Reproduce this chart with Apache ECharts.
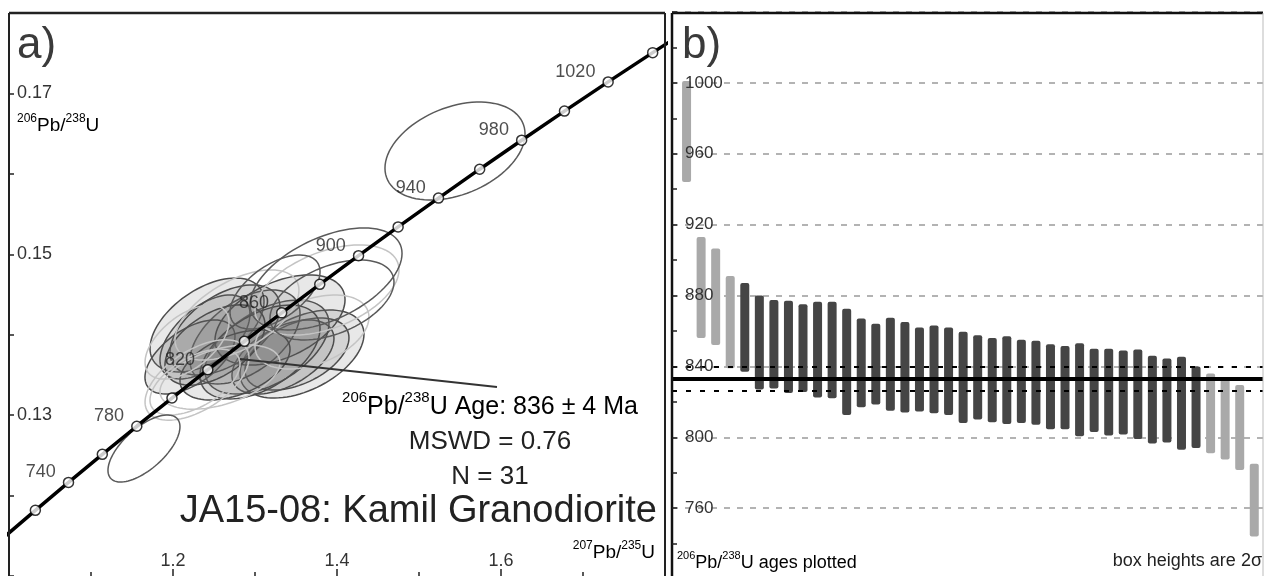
<!DOCTYPE html>
<html><head><meta charset="utf-8">
<script src="https://cdn.jsdelivr.net/npm/echarts@6/dist/echarts.min.js"></script>
<style>html,body{margin:0;padding:0;background:#fff}#c{width:1266px;height:576px}</style>
</head><body><div id="c"></div>
<script>
// ---------- Panel a) : concordia ----------
const concAges = [700,720,740,760,780,800,820,840,860,880,900,920,940,960,980,1000,1020,1040,1060];
const concX = [0.99251,1.032146,1.072570,1.113798,1.155846,1.198732,1.242466,1.287074,1.332566,1.378964,1.426286,1.474548,1.523774,1.573976,1.625178,1.677396,1.73066,1.78498,1.84038];
const concY = [0.114703,0.118167,0.121640,0.125126,0.128621,0.132129,0.135647,0.139176,0.142716,0.146267,0.149829,0.153401,0.156985,0.160580,0.164186,0.167804,0.171433,0.175073,0.178725];
const markerAgeMin = 720, markerAgeMax = 1040;
const labelledAges = [740,780,820,860,900,940,980,1020];
const xTickLabels = ['1.2','1.4','1.6'];
const yTickLabels = ['0.13','0.15','0.17'];

// ellipses: [207Pb/235U, 206Pb/238U, sigmaX, sigmaY, rho]
const ellFilled = [
  [1.3573,0.13760,0.0756,0.00547,0.45],
  [1.3512,0.13760,0.0634,0.00448,0.45],
  [1.3341,0.13723,0.0622,0.00460,0.5],
  [1.3146,0.13847,0.0756,0.00584,0.5],
  [1.2878,0.13972,0.0671,0.00584,0.5],
  [1.2415,0.14121,0.0695,0.00584,0.5],
  [1.2390,0.13972,0.0549,0.00522,0.55],
  [1.2634,0.14059,0.0671,0.00560,0.5],
  [1.2207,0.13723,0.0549,0.00460,0.55],
  [1.3305,0.14183,0.0793,0.00560,0.45],
  [1.3061,0.13785,0.0732,0.00584,0.5],
  [1.2756,0.13623,0.0671,0.00435,0.45],
  [1.2512,0.13872,0.0610,0.00500,0.5]
];
const ellOpenDark = [
  [1.3866,0.14693,0.0927,0.00634,0.5],
  [1.3244,0.14531,0.0549,0.00460,0.55],
  [1.5439,0.16284,0.0854,0.00609,0.35],
  [1.1646,0.12585,0.0439,0.00417,0.65],
  [1.3939,0.14432,0.0756,0.00497,0.45]
];
const ellOpenLight = [
  [1.3878,0.14556,0.0878,0.00560,0.45],
  [1.2293,0.13437,0.0634,0.00500,0.55],
  [1.2268,0.13412,0.0549,0.00410,0.55],
  [1.2573,0.13474,0.0732,0.00400,0.45],
  [1.2171,0.13909,0.0512,0.00460,0.55],
  [1.2780,0.14245,0.0756,0.00560,0.55],
  [1.3695,0.14034,0.0695,0.00460,0.4]
];
const arrowTail = [1.5951,0.13350];
const arrowTip = [1.2817,0.13698];

// ---------- Panel b) : ages ----------
const ageLow  = [944,856,852,839,837,827,827.5,825,825.5,822.5,822,812.5,817,818.5,815,814,814.5,813.5,812.5,808,810,808.5,807.5,808,807,804.5,804.5,800.5,803,801,801.5,799,796.5,797,793,794,791,787.5,781.5,744];
const ageHigh = [1001,913,906.5,891,887,880,877.5,877,875,876.5,876.5,872.5,867,864,867.5,865,862,863,862,859.5,857.5,856,857,855,854.5,852.5,851.5,853,850,850,849,849.5,846,844.5,845.5,840,836,834,829.5,785];
const rejected = [1,2,3,4,37,38,39,40];
const meanAge = 833, meanLow = 826, meanHigh = 840;
const ageTickLabels = ['760','800','840','880','920','960','1000'];

const FONT = '"Liberation Sans", Arial, Helvetica, sans-serif';

const concLine = concX.map((x,i)=>[x, concY[i]]);
const concMarks = concAges.map((a,i)=>[concX[i], concY[i], a]).filter(d=>d[2]>=markerAgeMin && d[2]<=markerAgeMax);

const barsAcc = [], barsRej = [];
ageLow.forEach((lo,i)=>{ const d=[i+1, lo, ageHigh[i]]; (rejected.indexOf(i+1)>=0 ? barsRej : barsAcc).push(d); });

function ellipseRender(style){
  return function(params, api){
    const cx=api.value(0), cy=api.value(1), sx=api.value(2), sy=api.value(3), r=api.value(4);
    const k=Math.sqrt(1-r*r); const pts=[];
    for(let i=0;i<90;i++){ const t=i/90*2*Math.PI;
      pts.push(api.coord([cx+sx*Math.cos(t), cy+sy*(r*Math.cos(t)+k*Math.sin(t))])); }
    return {type:'polygon', shape:{points:pts}, style:Object.assign({}, style)};
  };
}
function barRender(color){
  return function(params, api){
    const p1=api.coord([api.value(0), api.value(2)]);
    const p2=api.coord([api.value(0), api.value(1)]);
    const w=9;
    return {type:'rect', shape:{x:p1[0]-w/2, y:p1[1], width:w, height:p2[1]-p1[1], r:2}, style:{fill:color}};
  };
}

const chart = echarts.init(document.getElementById('c'), null, {renderer:'canvas'});
const supRich = (m, s) => ({
  m:{fontSize:m, fontFamily:FONT, color:'#222', verticalAlign:'bottom', lineHeight:m+4},
  s:{fontSize:s, fontFamily:FONT, color:'#222', verticalAlign:'top', lineHeight:m+2}
});
const ageAxisBase = {gridIndex:1, type:'value', min:720, max:1040, interval:40, position:'left', offset:0};

const option = {
  animation:false,
  backgroundColor:'#fff',
  grid:[
    {left:9, top:13, width:656, height:563, outerBoundsMode:'none', containLabel:false},
    {left:672, top:12, width:591, height:567, outerBoundsMode:'none', containLabel:false}
  ],
  xAxis:[
    {gridIndex:0, type:'value', min:1.0, max:1.8, interval:0.2,
     axisLine:{show:false},
     axisTick:{show:true, inside:true, length:7, lineStyle:{color:'#222', width:1.5}},
     minorTick:{show:true, splitNumber:2, length:4, lineStyle:{color:'#222', width:1.5}},
     splitLine:{show:false}, minorSplitLine:{show:false},
     axisLabel:{inside:true, margin:6, fontSize:18, fontFamily:FONT, color:'#333',
       formatter:v=>{const s=v.toFixed(1); return xTickLabels.indexOf(s)>=0?s:'';}}},
    {gridIndex:1, type:'value', min:0, max:40.6, show:false}
  ],
  yAxis:[
    {gridIndex:0, type:'value', min:0.11, max:0.18, interval:0.01,
     axisLine:{show:false},
     axisTick:{show:true, inside:true, length:5, lineStyle:{color:'#222', width:1.5}},
     splitLine:{show:false},
     axisLabel:{inside:true, margin:8, fontSize:18, fontFamily:FONT, color:'#333',
       formatter:v=>{const s=v.toFixed(2); return yTickLabels.indexOf(s)>=0?s:'';}}},
    Object.assign({}, ageAxisBase, {
     z:0,
     axisLine:{show:false}, axisTick:{show:false}, axisLabel:{show:false},
     splitLine:{show:true, lineStyle:{color:'#9a9a9a', width:1.5, type:[6,7]}},
     minorSplitLine:{show:false}}),
    Object.assign({}, ageAxisBase, {
     z:10,
     axisLine:{show:false},
     axisTick:{show:true, inside:true, length:5, lineStyle:{color:'#222', width:1.5}},
     minorTick:{show:true, splitNumber:2, length:5, lineStyle:{color:'#222', width:1.5}},
     splitLine:{show:false}, minorSplitLine:{show:false},
     axisLabel:{inside:true, margin:13, fontSize:17, fontFamily:FONT, color:'#333',
       formatter:v=>{const s=String(Math.round(v)); return ageTickLabels.indexOf(s)>=0?s:'';}}})
  ],
  series:[
    {type:'custom', name:'filled', xAxisIndex:0, yAxisIndex:0, clip:true, z:2,
     renderItem:ellipseRender({fill:'rgba(115,115,115,0.16)', stroke:'#4d4d4d', lineWidth:1.5}),
     data:ellFilled},
    {type:'custom', name:'light', xAxisIndex:0, yAxisIndex:0, clip:true, z:2,
     renderItem:ellipseRender({fill:'none', stroke:'#c4c4c4', lineWidth:1.5}),
     data:ellOpenLight},
    {type:'custom', name:'dark', xAxisIndex:0, yAxisIndex:0, clip:true, z:2,
     renderItem:ellipseRender({fill:'none', stroke:'#5a5a5a', lineWidth:1.5}),
     data:ellOpenDark,
     markLine:{silent:true, symbol:['none','arrow'], symbolSize:[0,15], label:{show:false},
       lineStyle:{color:'#333', width:1.8, type:'solid'},
       data:[[{coord:arrowTail},{coord:arrowTip}]]}},
    {type:'line', name:'concordia', xAxisIndex:0, yAxisIndex:0, data:concLine, showSymbol:false, z:3,
     lineStyle:{color:'#000', width:3.5}, clip:true},
    {type:'scatter', name:'marks', xAxisIndex:0, yAxisIndex:0, data:concMarks, z:4,
     symbol:'circle', symbolSize:10,
     itemStyle:{color:'#fff', borderColor:'#000', borderWidth:1.5},
     label:{show:true, position:'left', distance:7, offset:[0,-10], fontSize:18, fontFamily:FONT, color:'#222',
       formatter:p=>labelledAges.indexOf(p.value[2])>=0?String(p.value[2]):''}},
    {type:'custom', name:'accepted', xAxisIndex:1, yAxisIndex:1, clip:true, z:2,
     renderItem:barRender('#454545'), data:barsAcc,
     markLine:{silent:true, symbol:'none', label:{show:false}, z:5,
       data:[
        {yAxis:meanAge, lineStyle:{color:'#000', width:4, type:'solid'}},
        {yAxis:meanHigh, lineStyle:{color:'#000', width:2, type:[5,9]}},
        {yAxis:meanLow, lineStyle:{color:'#000', width:2, type:[5,9]}}
       ]}},
    {type:'custom', name:'rejected', xAxisIndex:1, yAxisIndex:1, clip:true, z:1,
     renderItem:barRender('#a9a9a9'), data:barsRej}
  ],
  graphic:[
    // panel borders
    {type:'line', shape:{x1:9,y1:13,x2:665,y2:13}, style:{stroke:'#222', lineWidth:2.5}, z:10},
    {type:'line', shape:{x1:9,y1:13,x2:9,y2:576}, style:{stroke:'#222', lineWidth:2}, z:10},
    {type:'line', shape:{x1:665,y1:13,x2:665,y2:576}, style:{stroke:'#222', lineWidth:2}, z:10},
    {type:'line', shape:{x1:672,y1:13,x2:1263,y2:13}, style:{stroke:'#111', lineWidth:2.5}, z:10},
    {type:'line', shape:{x1:672,y1:13,x2:672,y2:576}, style:{stroke:'#111', lineWidth:2.5}, z:10},
    {type:'line', shape:{x1:1263,y1:13,x2:1263,y2:576}, style:{stroke:'#bbb', lineWidth:1}, z:10},
    // texts panel a
    {type:'text', x:17, y:46, z:11, style:{text:'a)', fontSize:44, fontFamily:FONT, fill:'#3a3a3a', align:'left', verticalAlign:'middle'}},
    {type:'text', x:17, y:124, z:11, style:{text:'{s|206}{m|Pb/}{s|238}{m|U}', rich:supRich(19,12), align:'left', verticalAlign:'middle'}},
    {type:'text', x:490, y:405, z:11, style:{text:'{s|206}{m|Pb/}{s|238}{m|U Age: 836 ± 4 Ma}', rich:supRich(25,15), align:'center', verticalAlign:'middle'}},
    {type:'text', x:490, y:442, z:11, style:{text:'MSWD = 0.76', fontSize:26, fontFamily:FONT, fill:'#222', align:'center', verticalAlign:'middle'}},
    {type:'text', x:490, y:477, z:11, style:{text:'N = 31', fontSize:26, fontFamily:FONT, fill:'#222', align:'center', verticalAlign:'middle'}},
    {type:'text', x:657, y:512, z:11, style:{text:'JA15-08: Kamil Granodiorite', fontSize:38, fontFamily:FONT, fill:'#222', align:'right', verticalAlign:'middle'}},
    {type:'text', x:655, y:551, z:11, style:{text:'{s|207}{m|Pb/}{s|235}{m|U}', rich:supRich(19,12), align:'right', verticalAlign:'middle'}},
    // texts panel b
    {type:'text', x:682, y:46, z:11, style:{text:'b)', fontSize:44, fontFamily:FONT, fill:'#3a3a3a', align:'left', verticalAlign:'middle'}},
    {type:'text', x:677, y:561, z:11, style:{text:'{s|206}{m|Pb/}{s|238}{m|U ages plotted}', rich:supRich(18,11), align:'left', verticalAlign:'middle'}},
    {type:'text', x:1262, y:561, z:11, style:{text:'box heights are 2σ', fontSize:18, fontFamily:FONT, fill:'#222', align:'right', verticalAlign:'middle'}}
  ]
};
chart.setOption(option);
</script></body></html>
